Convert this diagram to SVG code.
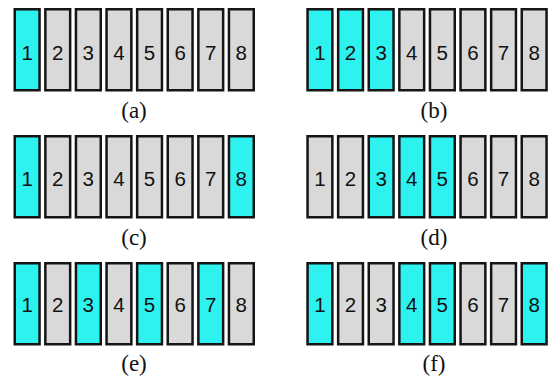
<svg xmlns="http://www.w3.org/2000/svg" width="548" height="381" viewBox="0 0 548 381">
  <style>
    .cell use { stroke: #151515; stroke-width: 2.5; }
    .on use { fill: #2ef2f0; }
    .off use { fill: #d9d9d9; }
    .cell text { font-family: "Liberation Sans", Arial, sans-serif; font-size: 20.5px; fill: #111; text-anchor: middle; }
    .cap { font-family: "Liberation Serif", "Times New Roman", serif; font-size: 23px; fill: #111; text-anchor: middle; }
  </style>
  <defs>
    <rect id="slot" x="1.25" y="1.25" width="24.8" height="81" />
  </defs>

  <!-- (a) -->
  <g id="panel-a">
    <g id="a1" class="cell on" transform="translate(13.5,8)"><use href="#slot"/><text x="13.6" y="52">1</text></g>
    <g id="a2" class="cell off" transform="translate(44.1,8)"><use href="#slot"/><text x="13.6" y="52">2</text></g>
    <g id="a3" class="cell off" transform="translate(74.7,8)"><use href="#slot"/><text x="13.6" y="52">3</text></g>
    <g id="a4" class="cell off" transform="translate(105.3,8)"><use href="#slot"/><text x="13.6" y="52">4</text></g>
    <g id="a5" class="cell off" transform="translate(135.9,8)"><use href="#slot"/><text x="13.6" y="52">5</text></g>
    <g id="a6" class="cell off" transform="translate(166.5,8)"><use href="#slot"/><text x="13.6" y="52">6</text></g>
    <g id="a7" class="cell off" transform="translate(197.1,8)"><use href="#slot"/><text x="13.6" y="52">7</text></g>
    <g id="a8" class="cell off" transform="translate(227.7,8)"><use href="#slot"/><text x="13.6" y="52">8</text></g>
    <text class="cap" x="134" y="118">(a)</text>
  </g>

  <!-- (b) -->
  <g id="panel-b">
    <g id="b1" class="cell on" transform="translate(306.3,8)"><use href="#slot"/><text x="13.6" y="52">1</text></g>
    <g id="b2" class="cell on" transform="translate(336.9,8)"><use href="#slot"/><text x="13.6" y="52">2</text></g>
    <g id="b3" class="cell on" transform="translate(367.5,8)"><use href="#slot"/><text x="13.6" y="52">3</text></g>
    <g id="b4" class="cell off" transform="translate(398.1,8)"><use href="#slot"/><text x="13.6" y="52">4</text></g>
    <g id="b5" class="cell off" transform="translate(428.7,8)"><use href="#slot"/><text x="13.6" y="52">5</text></g>
    <g id="b6" class="cell off" transform="translate(459.3,8)"><use href="#slot"/><text x="13.6" y="52">6</text></g>
    <g id="b7" class="cell off" transform="translate(489.9,8)"><use href="#slot"/><text x="13.6" y="52">7</text></g>
    <g id="b8" class="cell off" transform="translate(520.5,8)"><use href="#slot"/><text x="13.6" y="52">8</text></g>
    <text class="cap" x="434" y="118">(b)</text>
  </g>

  <!-- (c) -->
  <g id="panel-c">
    <g id="c1" class="cell on" transform="translate(13.5,135)"><use href="#slot"/><text x="13.6" y="51">1</text></g>
    <g id="c2" class="cell off" transform="translate(44.1,135)"><use href="#slot"/><text x="13.6" y="51">2</text></g>
    <g id="c3" class="cell off" transform="translate(74.7,135)"><use href="#slot"/><text x="13.6" y="51">3</text></g>
    <g id="c4" class="cell off" transform="translate(105.3,135)"><use href="#slot"/><text x="13.6" y="51">4</text></g>
    <g id="c5" class="cell off" transform="translate(135.9,135)"><use href="#slot"/><text x="13.6" y="51">5</text></g>
    <g id="c6" class="cell off" transform="translate(166.5,135)"><use href="#slot"/><text x="13.6" y="51">6</text></g>
    <g id="c7" class="cell off" transform="translate(197.1,135)"><use href="#slot"/><text x="13.6" y="51">7</text></g>
    <g id="c8" class="cell on" transform="translate(227.7,135)"><use href="#slot"/><text x="13.6" y="51">8</text></g>
    <text class="cap" x="134" y="245">(c)</text>
  </g>

  <!-- (d) -->
  <g id="panel-d">
    <g id="d1" class="cell off" transform="translate(306.3,135)"><use href="#slot"/><text x="13.6" y="51">1</text></g>
    <g id="d2" class="cell off" transform="translate(336.9,135)"><use href="#slot"/><text x="13.6" y="51">2</text></g>
    <g id="d3" class="cell on" transform="translate(367.5,135)"><use href="#slot"/><text x="13.6" y="51">3</text></g>
    <g id="d4" class="cell on" transform="translate(398.1,135)"><use href="#slot"/><text x="13.6" y="51">4</text></g>
    <g id="d5" class="cell on" transform="translate(428.7,135)"><use href="#slot"/><text x="13.6" y="51">5</text></g>
    <g id="d6" class="cell off" transform="translate(459.3,135)"><use href="#slot"/><text x="13.6" y="51">6</text></g>
    <g id="d7" class="cell off" transform="translate(489.9,135)"><use href="#slot"/><text x="13.6" y="51">7</text></g>
    <g id="d8" class="cell off" transform="translate(520.5,135)"><use href="#slot"/><text x="13.6" y="51">8</text></g>
    <text class="cap" x="434" y="245">(d)</text>
  </g>

  <!-- (e) -->
  <g id="panel-e">
    <g id="e1" class="cell on" transform="translate(13.5,262)"><use href="#slot"/><text x="13.6" y="50">1</text></g>
    <g id="e2" class="cell off" transform="translate(44.1,262)"><use href="#slot"/><text x="13.6" y="50">2</text></g>
    <g id="e3" class="cell on" transform="translate(74.7,262)"><use href="#slot"/><text x="13.6" y="50">3</text></g>
    <g id="e4" class="cell off" transform="translate(105.3,262)"><use href="#slot"/><text x="13.6" y="50">4</text></g>
    <g id="e5" class="cell on" transform="translate(135.9,262)"><use href="#slot"/><text x="13.6" y="50">5</text></g>
    <g id="e6" class="cell off" transform="translate(166.5,262)"><use href="#slot"/><text x="13.6" y="50">6</text></g>
    <g id="e7" class="cell on" transform="translate(197.1,262)"><use href="#slot"/><text x="13.6" y="50">7</text></g>
    <g id="e8" class="cell off" transform="translate(227.7,262)"><use href="#slot"/><text x="13.6" y="50">8</text></g>
    <text class="cap" x="134" y="371">(e)</text>
  </g>

  <!-- (f) -->
  <g id="panel-f">
    <g id="f1" class="cell on" transform="translate(306.3,262)"><use href="#slot"/><text x="13.6" y="50">1</text></g>
    <g id="f2" class="cell off" transform="translate(336.9,262)"><use href="#slot"/><text x="13.6" y="50">2</text></g>
    <g id="f3" class="cell off" transform="translate(367.5,262)"><use href="#slot"/><text x="13.6" y="50">3</text></g>
    <g id="f4" class="cell on" transform="translate(398.1,262)"><use href="#slot"/><text x="13.6" y="50">4</text></g>
    <g id="f5" class="cell on" transform="translate(428.7,262)"><use href="#slot"/><text x="13.6" y="50">5</text></g>
    <g id="f6" class="cell off" transform="translate(459.3,262)"><use href="#slot"/><text x="13.6" y="50">6</text></g>
    <g id="f7" class="cell off" transform="translate(489.9,262)"><use href="#slot"/><text x="13.6" y="50">7</text></g>
    <g id="f8" class="cell on" transform="translate(520.5,262)"><use href="#slot"/><text x="13.6" y="50">8</text></g>
    <text class="cap" x="434" y="371">(f)</text>
  </g>

  <!-- no connectors in this figure -->
  <g id="connectors"></g>
</svg>
